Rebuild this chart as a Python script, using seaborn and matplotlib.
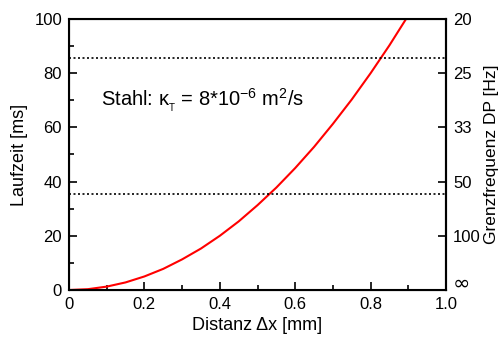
import matplotlib
matplotlib.use("Agg")
import matplotlib.pyplot as plt
from matplotlib.ticker import MultipleLocator
import seaborn as sns
import pandas as pd

# Diffusion travel time over distance (steel)
distanz_mm = [0.0, 0.05, 0.1, 0.15, 0.2, 0.25, 0.3, 0.35, 0.4, 0.45, 0.5,
              0.55, 0.6, 0.65, 0.7, 0.75, 0.8, 0.85, 0.894]
laufzeit_ms = [0.0, 0.3, 1.25, 2.8, 5.0, 7.8, 11.3, 15.3, 20.0, 25.3, 31.3,
               37.8, 45.0, 52.8, 61.3, 70.3, 80.0, 90.3, 100.0]

# Reference levels (dotted)
grenz_levels = [85.6, 35.4]

# Right axis: cutoff frequency labels
freq_tick_pos = [0, 20, 40, 60, 80, 100]
freq_tick_labels = ["\u221e", "100", "50", "33", "25", "20"]

sns.set_style("ticks")
plt.rcParams["font.family"] = ["Liberation Sans", "DejaVu Sans"]
plt.rcParams["mathtext.fontset"] = "custom"
plt.rcParams["mathtext.rm"] = "Liberation Sans"
plt.rcParams["mathtext.it"] = "Liberation Sans"
plt.rcParams["mathtext.sf"] = "Liberation Sans"
for key in ["text.color", "axes.labelcolor", "xtick.color", "ytick.color",
            "axes.edgecolor"]:
    plt.rcParams[key] = "black"

fig = plt.figure(figsize=(5.01, 3.40), dpi=100)
ax = fig.add_axes([69 / 501, 1 - 290 / 340, (446 - 69) / 501, (290 - 19) / 340])

df = pd.DataFrame({"x": distanz_mm, "t": laufzeit_ms})
sns.lineplot(data=df, x="x", y="t", ax=ax, color="#ff0000", linewidth=1.5)

for lvl in grenz_levels:
    ax.axhline(lvl, color="black", linestyle=(0, (1.2, 1.5)), linewidth=1.2)

ax.set_xlim(0, 1.0)
ax.set_ylim(0, 100)
ax.xaxis.set_major_locator(MultipleLocator(0.2))
ax.xaxis.set_minor_locator(MultipleLocator(0.1))
ax.yaxis.set_major_locator(MultipleLocator(20))
ax.yaxis.set_minor_locator(MultipleLocator(10))
ax.set_xticks([0, 0.2, 0.4, 0.6, 0.8, 1.0])
ax.set_xticklabels(["0", "0.2", "0.4", "0.6", "0.8", "1.0"])
ax.tick_params(which="both", direction="in", width=1.2, labelsize=12,
               top=False, right=False, pad=5)
ax.tick_params(which="major", length=6)
ax.tick_params(which="minor", length=3.5)
for s in ax.spines.values():
    s.set_linewidth(1.5)
ax.set_xlabel("Distanz \u0394x [mm]", fontsize=13)
ax.set_ylabel("Laufzeit [ms]", fontsize=13)
ax.xaxis.set_label_coords(0.5, -0.1)
ax.yaxis.set_label_coords(-0.11, 0.5)

ax2 = ax.twinx()
ax2.set_ylim(0, 100)
ax2.set_yticks(freq_tick_pos)
ax2.set_yticklabels(freq_tick_labels)
ax2.tick_params(direction="in", length=6, width=1.2, labelsize=12, pad=5)
inf_label = ax2.get_yticklabels()[0]
inf_label.set_fontsize(15)
inf_label.set_fontfamily("DejaVu Sans")
inf_label.set_verticalalignment("baseline")
ax2.spines["right"].set_linewidth(1.5)
ax2.set_ylabel("Grenzfrequenz DP [Hz]", fontsize=12.5)
ax2.yaxis.set_label_coords(1.1, 0.5)

ax.text(0.085, 0.70, r"Stahl: $\kappa_{_T}$ = 8*10$^{-6}$ m$^{2}$/s",
        transform=ax.transAxes, fontsize=14.5, ha="left", va="center")

fig.savefig("out.png", dpi=100)
